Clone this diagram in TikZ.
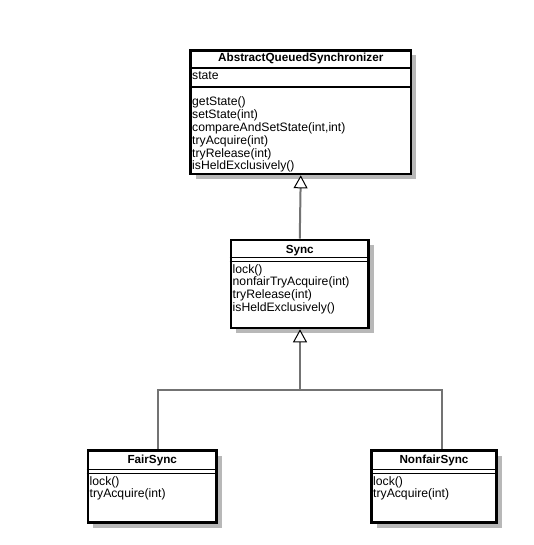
\documentclass[tikz,border=0pt]{standalone}
\usepackage{fontspec}
\setmainfont{Liberation Sans}
\usetikzlibrary{
	arrows.meta,
	shadows
}

\begin{document}
\begin{tikzpicture}[x=1pt, y=-1pt, font=\fontsize{12.2}{12.8}\selectfont,
	classbox/.style={draw, line width=2.6pt, fill=white, inner sep=0pt,
		drop shadow={shadow xshift=5pt, shadow yshift=-5pt, fill=black!28, opacity=1}},
	title/.style={anchor=base, inner sep=0pt, font=\fontsize{11.7}{12.8}\selectfont\bfseries},
	member/.style={anchor=base west, inner sep=0pt},
	sep/.style={line width=2.5pt},
	dsep/.style={line width=1.5pt},
	inherit/.style={draw=black!55, line width=2pt},
	hollow/.style={-{Triangle[open, length=13pt, width=14pt, line width=1pt, color=black, fill=white]}}]
	\useasboundingbox (0,0) rectangle (534,545);

	% class boxes
	\node[classbox, minimum width=220.5pt, minimum height=123.5pt] (aqs) at (300.75,112.25) {};
	\node[classbox, minimum width=137.5pt, minimum height=88pt] (sync) at (299.75,284) {};
	\node[classbox, minimum width=128.5pt, minimum height=72pt] (fair) at (152.25,486.5) {};
	\node[classbox, minimum width=125pt, minimum height=72pt] (nonfair) at (434,486.5) {};

	% AbstractQueuedSynchronizer
	\node[title] (aqs-t) at (300.75,62) {AbstractQueuedSynchronizer};
	\draw[sep] (aqs.west |- 0,68) -- (aqs.east |- 0,68);
	\node[member] (aqs-a) at (192,80) {state};
	\draw[sep] (aqs.west |- 0,87) -- (aqs.east |- 0,87);
	\foreach \m [count=\i from 0] in {getState(), setState(int), {compareAndSetState(int,int)},
		tryAcquire(int), tryRelease(int), isHeldExclusively()}
		\node[member] (aqs-m\i) at (192,106+12.8*\i) {\m};

	% Sync
	\node[title] (sync-t) at (299.75,253) {Sync};
	\draw[dsep] (sync.west |- 0,257.5) -- (sync.east |- 0,257.5);
	\draw[dsep] (sync.west |- 0,261.5) -- (sync.east |- 0,261.5);
	\foreach \m [count=\i from 0] in {lock(), nonfairTryAcquire(int), tryRelease(int), isHeldExclusively()}
		\node[member] (sync-m\i) at (232.5,273+12.7*\i) {\m};

	% FairSync
	\node[title] (fair-t) at (152.25,463) {FairSync};
	\draw[dsep] (fair.west |- 0,469.5) -- (fair.east |- 0,469.5);
	\draw[dsep] (fair.west |- 0,473.5) -- (fair.east |- 0,473.5);
	\node[member] (fair-m0) at (89.5,485) {lock()};
	\node[member] (fair-m1) at (89.5,497.7) {tryAcquire(int)};

	% NonfairSync
	\node[title] (nonfair-t) at (434,463) {NonfairSync};
	\draw[dsep] (nonfair.west |- 0,469.5) -- (nonfair.east |- 0,469.5);
	\draw[dsep] (nonfair.west |- 0,473.5) -- (nonfair.east |- 0,473.5);
	\node[member] (nonfair-m0) at (373,485) {lock()};
	\node[member] (nonfair-m1) at (373,497.7) {tryAcquire(int)};

	% generalisation
	\coordinate (fork) at (300,390);
	\coordinate (forkL) at (158,390);
	\coordinate (forkR) at (442,390);
	\draw[inherit, hollow] (sync.north) -- (aqs.south);
	\draw[inherit] (forkL |- fair.north) -- (forkL) -- (forkR) -- (forkR |- nonfair.north);
	\draw[inherit, hollow] (fork) -- (fork |- sync.south);
\end{tikzpicture}
\end{document}
